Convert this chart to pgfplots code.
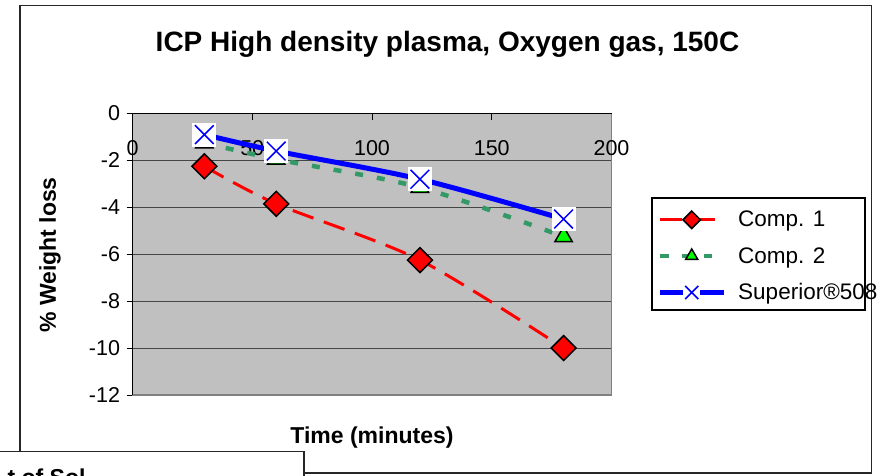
\documentclass[border=0pt]{standalone}
\usepackage{fontspec}
\setmainfont{Liberation Sans}
\usepackage{pgfplots}
\pgfplotsset{compat=1.18}

\definecolor{plotgray}{RGB}{192,192,192}
\definecolor{gridgray}{RGB}{70,70,70}
\definecolor{c1red}{RGB}{255,0,0}
\definecolor{c2green}{RGB}{51,153,102}
\definecolor{c2fill}{RGB}{0,255,0}
\definecolor{supblue}{RGB}{0,0,255}

% Excel style X marker: white square with a cross
\pgfdeclareplotmark{boxx}{%
  \pgfpathrectangle{\pgfpoint{-\pgfplotmarksize}{-\pgfplotmarksize}}{\pgfpoint{2\pgfplotmarksize}{2\pgfplotmarksize}}%
  \pgfsetfillcolor{white}%
  \pgfusepathqfill
  \pgfpathmoveto{\pgfpoint{-.78\pgfplotmarksize}{-.78\pgfplotmarksize}}%
  \pgfpathlineto{\pgfpoint{.78\pgfplotmarksize}{.78\pgfplotmarksize}}%
  \pgfpathmoveto{\pgfpoint{-.78\pgfplotmarksize}{.78\pgfplotmarksize}}%
  \pgfpathlineto{\pgfpoint{.78\pgfplotmarksize}{-.78\pgfplotmarksize}}%
  \pgfusepathqstroke
}

\begin{document}
\begin{tikzpicture}[x=1pt,y=1pt]
\clip (0,0) rectangle (881,475);
\fill[white] (0,0) rectangle (881,475);
\draw[line width=1.5pt, black!85] (20,2) rectangle (871.5,469.7);

\node[font=\bfseries\fontsize{28}{34}\selectfont, anchor=base] at (447.5,423) {ICP High density plasma, Oxygen gas, 150C};
\node[font=\bfseries\fontsize{23}{28}\selectfont, rotate=90] at (50,220) {\% Weight loss};
\node[font=\bfseries\fontsize{23}{28}\selectfont, anchor=base] at (372,32) {Time (minutes)};

\begin{axis}[
  at={(132.5pt,80pt)}, anchor=south west,
  scale only axis, width=479pt, height=281.5pt,
  xmin=0, xmax=200, ymin=-12, ymax=0,
  xtick={0,50,100,150,200}, ytick={-12,-10,-8,-6,-4,-2,0},
  xtick pos=right, xticklabel pos=right,
  ytick pos=left,
  xtick align=inside, ytick align=outside,
  major tick length=6pt,
  tick style={black, line width=1pt},
  ticklabel style={font=\fontsize{21.5}{25}\selectfont},
  xticklabel style={anchor=north, yshift=-23pt},
  yticklabel style={xshift=-3pt},
  /pgf/number format/assume math mode=true,
  axis background/.style={fill=plotgray},
  axis line style={draw=gray, line width=1.5pt},
  ymajorgrids, major grid style={gridgray, line width=1pt},
  clip=false,
  legend style={at={(1.0846,0.70)}, anchor=north west, draw=none, fill=none,
    font=\fontsize{22.5}{26}\selectfont, row sep=15pt, inner xsep=5pt, inner ysep=11pt},
  legend cell align=left,
  legend image code/.code={%
    \draw[mark repeat=2,mark phase=2,#1,every mark/.append style={scale=0.7}]
      plot coordinates {(0pt,0pt) (32pt,0pt) (64pt,0pt)};
    \path (0pt,0pt) (74pt,0pt);},
]
\addplot[c1red, line width=3pt, dash pattern=on 22pt off 11pt, smooth,
  mark=square*, mark size=8.8pt,
  mark options={solid, rotate=45, fill=c1red, draw=black, line width=1.5pt}]
  coordinates {(30,-2.25) (60,-3.85) (120,-6.25) (180,-10)};
\addlegendentry{Comp. 1}
\addplot[c2green, line width=4.5pt, dash pattern=on 8pt off 14pt, smooth,
  mark=triangle*, mark size=10pt,
  mark options={solid, fill=c2fill, draw=black, line width=1.5pt}]
  coordinates {(30,-1.25) (60,-1.95) (120,-3.15) (180,-5.25)};
\addlegendentry{Comp. 2}
\addplot[supblue, line width=5pt, smooth,
  mark=boxx, mark size=12pt,
  mark options={solid, draw=supblue, line width=1.5pt}]
  coordinates {(30,-0.9) (60,-1.6) (120,-2.8) (180,-4.5)};
\addlegendentry{Superior®508}
\draw[black, line width=1.2pt] (rel axis cs:0,0) -- (rel axis cs:0,1) -- (rel axis cs:1,1);
\end{axis}

\draw[line width=1.2pt, black] (652,165) rectangle (865,277);
\draw[line width=1.5pt, black!85, fill=white] (-5,-5) rectangle (304,23.3);
\node[font=\bfseries\fontsize{23}{28}\selectfont, anchor=base west] at (4,-10) {t of Sol};
\end{tikzpicture}
\end{document}
